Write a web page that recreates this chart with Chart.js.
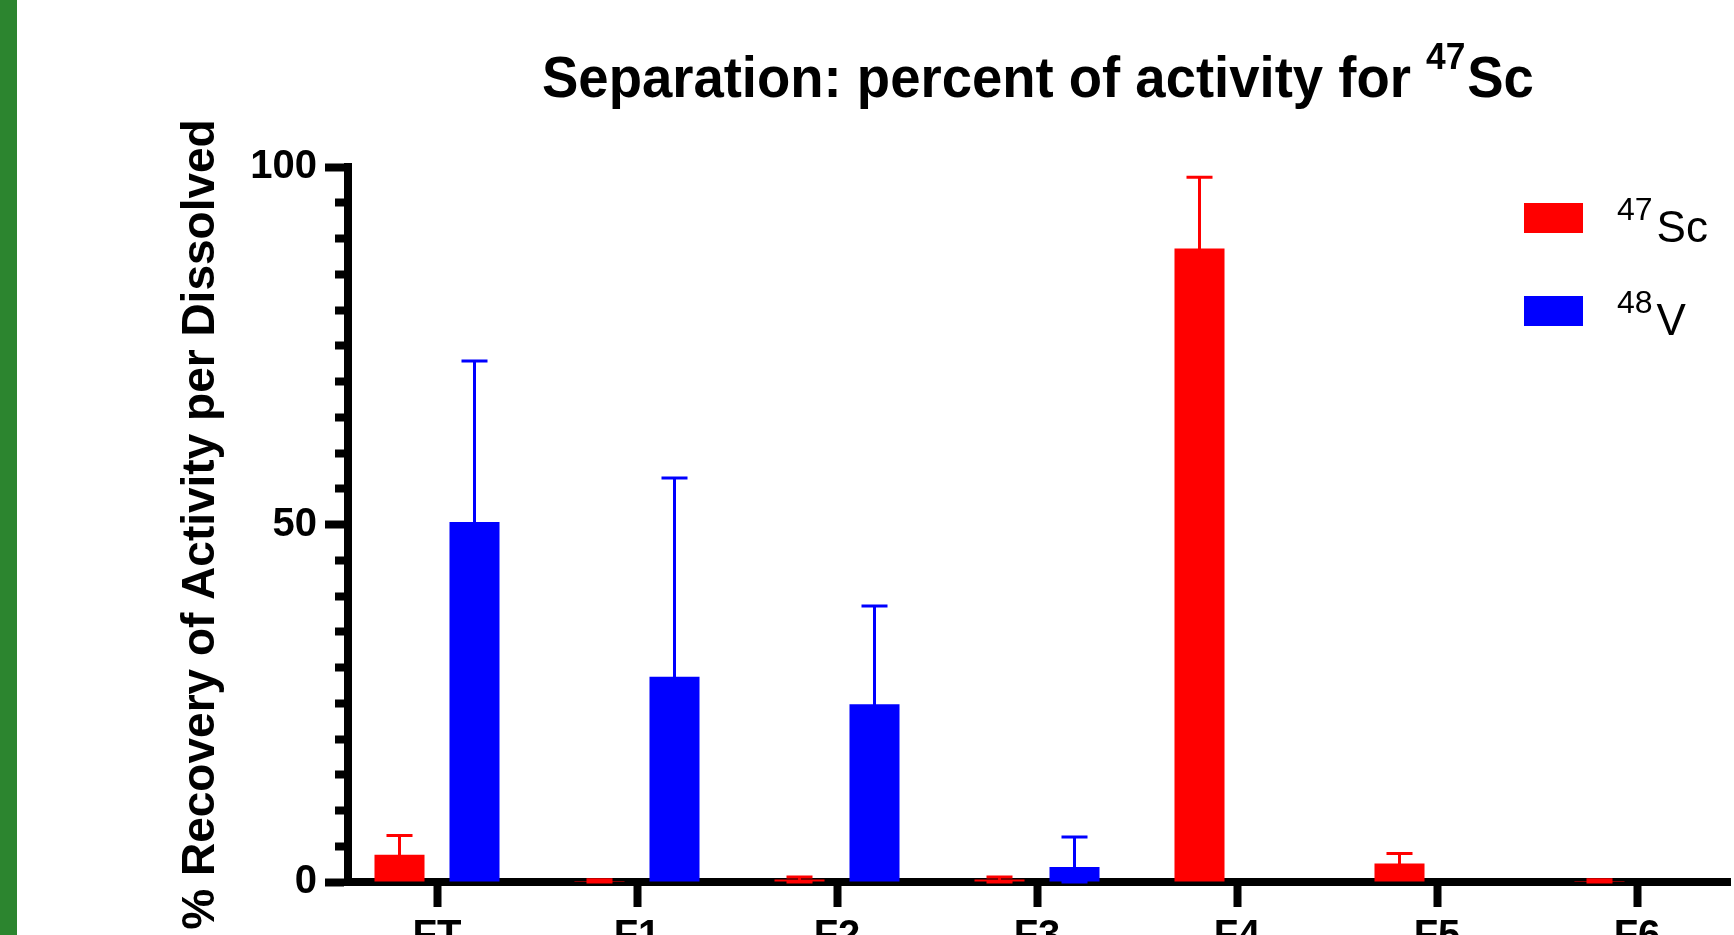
<!DOCTYPE html>
<html>
<head>
<meta charset="utf-8">
<script src="https://cdn.jsdelivr.net/npm/chart.js@4.4.1/dist/chart.umd.min.js"></script>
<style>
  html, body { margin: 0; padding: 0; background: #fff; overflow: hidden; }
  #wrap { position: relative; width: 1734px; height: 935px; overflow: hidden; background: #fff; }
  #box { position: absolute; left: 0; top: 0; width: 1734px; height: 1000px; }
  #stripe { position: absolute; left: 0; top: 0; width: 17px; height: 935px; background: #2c852f; }
</style>
</head>
<body>
<div id="wrap">
  <div id="box"><canvas id="barChart"></canvas></div>
  <div id="stripe"></div>
</div>
<script>
// fractions off the column
const fractions = ['FT', 'F1', 'F2', 'F3', 'F4', 'F5', 'F6'];

// mean and error
const sc47Mean = [3.8, 0.15, 0.35, 0.35, 88.6, 2.6, 0.15];
const sc47Err  = [2.7, 0.15, 0.35, 0.35, 9.95, 1.4, 0.15];
const v48Mean  = [50.35, 28.7, 24.85, 2.1, null, null, null];
const v48Err   = [22.5, 27.8, 13.75, 4.2, null, null, null];

const yTickValues = [0, 5, 10, 15, 20, 25, 30, 35, 40, 45, 50, 55, 60, 65, 70, 75, 80, 85, 90, 95, 100];
const yLabelTicks = [0, 50, 100];
const seriesMass = ['47', '48'];
const seriesSymbol = ['Sc', 'V'];
const seriesColor = ['rgb(255, 0, 0)', 'rgb(0, 0, 255)'];

const titlePre = 'Separation: percent of activity for ';
const titleSup = '47';
const titleEnd = 'Sc';
const yTitle = '% Recovery of Activity per Dissolved';

const FONT = '"Liberation Sans", Arial, Helvetica, sans-serif';

// error bars go on top of everything, axis included
const errorBars = {
  id: 'errorBars',
  afterDraw(chart) {
    const ctx = chart.ctx;
    const yScale = chart.scales.y;
    chart.data.datasets.forEach((ds, i) => {
      const meta = chart.getDatasetMeta(i);
      meta.data.forEach((bar, j) => {
        const m = ds.means[j];
        const e = ds.errors[j];
        if (m == null || e == null) return;
        const top = yScale.getPixelForValue(m + e);
        const bot = yScale.getPixelForValue(Math.max(0, m - e));
        ctx.save();
        ctx.strokeStyle = ds.backgroundColor;
        ctx.lineWidth = 3;
        ctx.beginPath();
        ctx.moveTo(bar.x, top);
        ctx.lineTo(bar.x, bot);
        ctx.moveTo(bar.x - 13, top);
        ctx.lineTo(bar.x + 13, top);
        ctx.moveTo(bar.x - 13, bot);
        ctx.lineTo(bar.x + 13, bot);
        ctx.stroke();
        ctx.restore();
      });
    });
  }
};

const titleAndLegend = {
  id: 'titleAndLegend',
  afterDraw(chart) {
    const ctx = chart.ctx;
    ctx.save();
    ctx.fillStyle = '#000';
    ctx.textAlign = 'left';
    ctx.textBaseline = 'alphabetic';

    // title with superscript
    const big = 'bold 57px ' + FONT;
    const small = 'bold 37px ' + FONT;
    ctx.font = big;
    const w1 = ctx.measureText(titlePre).width;
    const w3 = ctx.measureText(titleEnd).width;
    ctx.font = small;
    const w2 = ctx.measureText(titleSup).width;
    const sx = 990 / (w1 + w2 + w3);
    ctx.save();
    ctx.translate(542, 97);
    ctx.scale(sx, 1);
    ctx.font = big;
    ctx.fillText(titlePre, 0, 0);
    ctx.font = small;
    ctx.fillText(titleSup, w1, -28);
    ctx.font = big;
    ctx.fillText(titleEnd, w1 + w2 + 2, 0);
    ctx.restore();

    // legend
    chart.data.datasets.forEach((ds, i) => {
      const top = 203 + i * 93;
      ctx.fillStyle = ds.backgroundColor;
      ctx.fillRect(1524, top, 59, 30);
      ctx.fillStyle = '#000';
      ctx.font = '32px ' + FONT;
      ctx.fillText(seriesMass[i], 1617, top + 17);
      const sw = ctx.measureText(seriesMass[i]).width;
      ctx.font = '44px ' + FONT;
      ctx.fillText(seriesSymbol[i], 1617 + sw + 4, top + 39);
    });
    ctx.restore();
  }
};

new Chart(document.getElementById('barChart'), {
  type: 'bar',
  data: {
    datasets: [
      {
        label: seriesMass[0] + seriesSymbol[0],
        data: sc47Mean.map((v, i) => ({ x: i, y: v })),
        means: sc47Mean,
        errors: sc47Err,
        backgroundColor: seriesColor[0]
      },
      {
        label: seriesMass[1] + seriesSymbol[1],
        data: v48Mean.map((v, i) => ({ x: i, y: v })),
        means: v48Mean,
        errors: v48Err,
        backgroundColor: seriesColor[1]
      }
    ]
  },
  options: {
    responsive: true,
    maintainAspectRatio: false,
    animation: false,
    datasets: {
      bar: { categoryPercentage: 0.75, barPercentage: 0.667, borderWidth: 0 }
    },
    layout: { padding: { left: 150, top: 167, right: 4, bottom: 18 } },
    plugins: {
      legend: { display: false },
      title: { display: false },
      tooltip: { enabled: false }
    },
    scales: {
      x: {
        type: 'linear',
        z: 1,
        min: -0.445,
        max: 6.465,
        offset: false,
        afterBuildTicks: s => { s.ticks = fractions.map((f, i) => ({ value: i })); },
        afterFit: s => { s.height = 100; },
        grid: {
          display: true, offset: false, drawOnChartArea: false, drawTicks: true,
          tickLength: 25, tickWidth: 8, tickColor: '#000'
        },
        border: { display: true, color: '#000', width: 8 },
        ticks: {
          autoSkip: false, maxRotation: 0, padding: 6, color: '#000',
          font: { family: FONT, size: 40, weight: 'bold' },
          callback: v => fractions[v]
        }
      },
      y: {
        z: 1,
        min: 0,
        max: 100,
        afterFit: s => { s.width = 198; },
        afterBuildTicks: s => { s.ticks = yTickValues.map(v => ({ value: v })); },
        ticks: {
          autoSkip: false, padding: 8, color: '#000',
          font: { family: FONT, size: 40, weight: 'bold' },
          callback: v => yLabelTicks.includes(v) ? String(v) : ''
        },
        grid: {
          drawOnChartArea: false, drawTicks: true,
          tickLength: 23, tickWidth: 8, tickColor: '#000',
          // minor ticks: only the part next to the axis is drawn
          tickBorderDash: c => (c.tick && yLabelTicks.includes(c.tick.value)) ? [] : [0, 10, 10, 100]
        },
        border: { display: true, color: '#000', width: 8 },
        title: {
          display: true, text: yTitle, color: '#000',
          font: { family: FONT, size: 46, weight: 'bold' },
          padding: { top: 24, bottom: 0 }
        }
      }
    }
  },
  plugins: [errorBars, titleAndLegend]
});
</script>
</body>
</html>
